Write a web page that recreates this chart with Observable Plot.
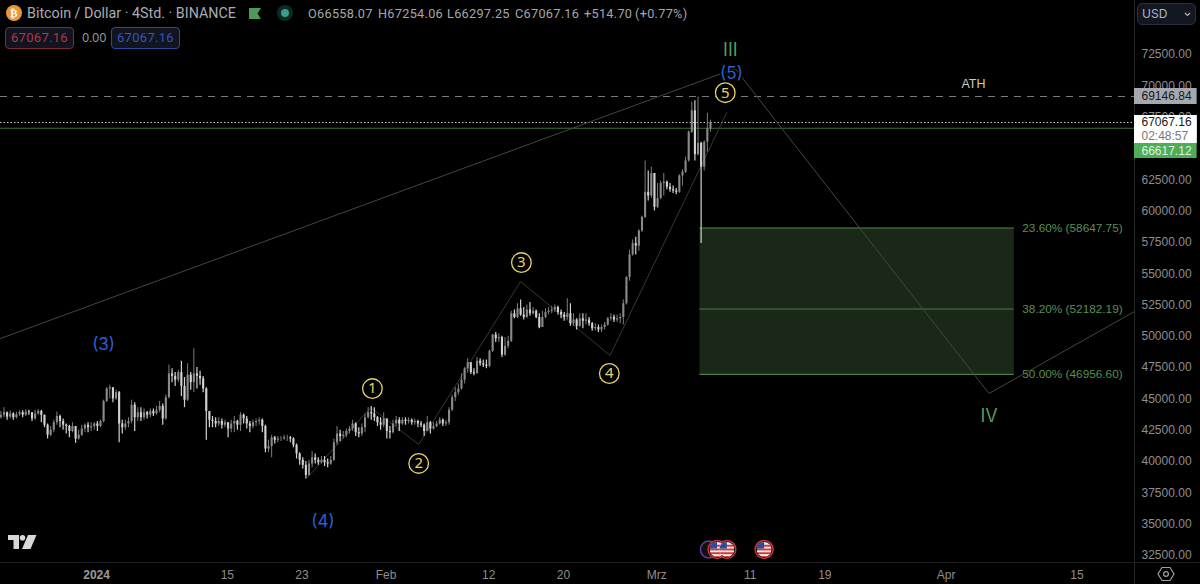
<!DOCTYPE html>
<html><head><meta charset="utf-8">
<script src="https://cdn.jsdelivr.net/npm/d3@7"></script>
<script src="https://cdn.jsdelivr.net/npm/@observablehq/plot@0.6"></script>
<style>
html,body{margin:0;padding:0;background:#000;width:1200px;height:584px;overflow:hidden}
#wrap{position:relative;width:1200px;height:584px;font-family:Inter,Roboto,sans-serif}
#wrap svg.plot{display:block}
.o{position:absolute;white-space:nowrap}
.q{position:absolute;white-space:nowrap;top:5px;font-size:12.7px;line-height:17px;color:#a4a7ad;font-family:Roboto,sans-serif;letter-spacing:.3px}
.box{position:absolute;box-sizing:border-box;height:22px;top:27px;width:69px;border-radius:4px;background:#12141f;font-size:13px;line-height:20px;text-align:center;font-family:Roboto,sans-serif;letter-spacing:.3px}
</style></head><body>
<div id="wrap">
<div id="chart"></div>
<svg class="o" style="left:5px;top:4px" width="18" height="18" viewBox="0 0 18 18"><circle cx="9" cy="9" r="8" fill="#e8963a"/><text x="9" y="13" font-size="11" font-weight="700" text-anchor="middle" fill="#fff" font-family="DejaVu Sans">₿</text></svg>
<div class="o" style="left:27px;top:4px;font-size:14.3px;line-height:18px;color:#a9acb4;font-family:Roboto,sans-serif">Bitcoin / Dollar · 4Std. · BINANCE</div>
<svg class="o" style="left:248px;top:7px" width="14" height="13" viewBox="0 0 14 13"><path d="M1 1H13L9.5 6.5L13 12H1Z" fill="#4f9a5a"/></svg>
<svg class="o" style="left:276px;top:4px" width="18" height="18" viewBox="0 0 18 18"><circle cx="9" cy="9" r="8" fill="#0e2a24"/><circle cx="9" cy="9" r="4" fill="#3d9c86"/></svg>
<div class="q" style="left:308px">O66558.07</div>
<div class="q" style="left:378px">H67254.06</div>
<div class="q" style="left:447px">L66297.25</div>
<div class="q" style="left:515px">C67067.16</div>
<div class="q" style="left:584px">+514.70</div>
<div class="q" style="left:635px">(+0.77%)</div>
<div class="box" style="left:5px;border:1px solid #7c2c36;color:#a93c46">67067.16</div>
<div class="o" style="left:82px;top:30px;font-size:11.5px;line-height:16px;color:#9a9a9a">0.00</div>
<div class="box" style="left:111px;border:1px solid #2b4c9e;color:#3257b8">67067.16</div>
<div class="o" style="left:1137px;top:3px;width:59px;height:22px;box-sizing:border-box;border:1px solid #2c303c;border-radius:5px;background:#131722;color:#b2b5be;font-size:12px;line-height:20px;padding-left:4px">USD<svg style="position:absolute;right:4px;top:8px" width="7" height="5" viewBox="0 0 7 5"><path d="M1 1L3.5 3.5L6 1" fill="none" stroke="#b2b5be" stroke-width="1.2"/></svg></div>
<svg class="o" style="left:8px;top:535px" width="29" height="15" viewBox="0 0 29 15"><path d="M0 0H11V14H5.5V5H0Z" fill="#d8d8d8"/><circle cx="14.5" cy="2.8" r="2.8" fill="#d8d8d8"/><path d="M20 0H28.5L22.5 14H14Z" fill="#d8d8d8"/></svg>
<svg class="o" style="left:1157px;top:565px" width="18" height="18" viewBox="0 0 18 18"><path d="M5 2.5H13L17 9L13 15.5H5L1 9Z" fill="none" stroke="#a0a0a0" stroke-width="1.2"/><circle cx="9" cy="9" r="2.4" fill="none" stroke="#a0a0a0" stroke-width="1.2"/></svg>
</div>
<script>
// Candles: one bar per 8 hours
const firstCandle = "2023-12-21T18:00:00Z";
const stepHours = 8;
const firstOpen = 43500;
const closes = [
43700,43900,43550,43800,43500,43750,43900,43700,43950,43900,
43400,43800,44000,43700,42900,42100,42500,43100,43600,43200,
42900,42800,42400,42800,41800,42100,42600,42900,42700,42800,
43000,42800,43200,44800,45800,45900,45000,45500,43000,42700,
43000,43200,44500,43500,43900,43500,43900,43700,44000,43800,
44100,44400,43400,45100,47000,46800,46500,47100,46000,44900,
46900,46300,47000,46800,46600,45800,44000,43300,43200,43000,
43200,42900,43100,42600,43000,43200,42900,43700,43400,43000,
42800,43100,43200,43300,42800,41000,41200,41900,41700,41800,
41800,41900,41900,41800,41300,40600,40100,39700,38900,39800,
40300,40100,39900,40100,39900,39800,40100,41500,42200,42000,
42100,42400,42600,43000,42300,42200,42700,43500,43900,43800,
43500,43100,42900,43400,42400,42300,43000,43300,43000,43300,
43200,43300,43100,43200,43000,42900,42400,43100,42600,42800,
43000,43300,43000,43100,44100,45100,45500,45800,46500,47400,
47900,47100,47000,48000,47800,47700,47600,48800,50100,49800,
49900,48500,49200,49600,51800,51500,52200,51700,51500,52100,
51800,52000,51500,50700,51500,51900,52000,52100,52300,51900,
51700,51500,51800,51000,51300,50800,51400,51200,51300,51000,
50600,50700,50500,50700,50900,51400,51500,51300,51400,51500,
52600,54700,56500,57400,57200,58400,59500,61500,61200,63000,
60300,61000,62200,62300,61900,61700,61600,61500,62800,63100,
64000,66300,68000,64500,65400,63500,65500,66558,67067.16];
const highs = [
44000,44300,43950,44050,43900,43950,44050,44050,44150,44100,
43900,44100,44150,44100,43700,43000,42800,43300,43950,43700,
43400,43000,42900,43100,42800,42500,42900,43000,43100,43100,
43100,43200,43300,44900,45900,46100,45800,45700,45600,43300,
43300,43500,44900,44700,44300,44300,44200,44000,44200,44200,
44400,44800,44600,45300,47700,47400,47100,47300,48000,46700,
47800,47100,49000,47500,47200,46800,45900,43900,43600,43500,
43500,43400,43300,43100,43300,43600,43300,43900,43800,43600,
43200,43300,43400,43500,43400,42900,41700,42100,42000,42000,
42000,42100,42100,42000,41900,41400,40700,40300,40000,40100,
40800,40600,40300,40400,40400,40200,40400,41800,42800,42500,
42400,42600,42800,43300,43100,42700,43000,43800,44300,44400,
44300,43600,43500,43900,43400,42800,43300,43600,43500,43500,
43500,43500,43400,43400,43300,43200,43000,43600,43200,43100,
43200,43500,43400,43300,44300,45300,45900,46200,47000,47500,
48230,47600,47400,48300,48200,48100,48100,48900,50150,50300,
50200,50000,49900,50000,52000,52100,52600,52900,52300,52500,
52700,52300,52100,51800,52000,52200,52300,52400,52500,52400,
52100,51900,53000,52600,51800,51400,51800,51800,51800,51500,
51100,51000,50900,50900,51100,51500,51800,51700,51700,51800,
52900,54750,56900,57700,57900,58500,59600,64000,63200,63500,
63000,62200,62400,63000,62400,62200,62000,61800,62900,63300,
64300,66400,68700,68800,69100,65500,65600,67800,67254.06];
const lows = [
43400,43500,43300,43400,43300,43400,43600,43500,43600,43700,
43200,43300,43700,43100,42700,41800,42000,42300,42900,42700,
42500,42200,41900,42300,41450,41700,42000,42300,42300,42400,
42500,42400,42700,43100,44700,45000,44700,44900,41500,42200,
42500,42700,43000,42400,43200,43200,43300,43400,43500,43600,
43700,43900,42900,43300,45000,46300,46000,46300,45200,44300,
44800,45700,45500,45800,46100,45500,41700,42700,42700,42700,
42800,42600,42700,41900,42300,42300,42500,42400,43000,42600,
42300,42600,42800,42900,42300,40700,40700,40300,41400,41500,
41600,41700,41600,41500,41100,40200,39700,39400,38600,38800,
39500,39800,39700,39800,39600,39500,39700,40000,41300,41600,
41800,41900,42200,42400,42000,41900,42000,42300,43400,43300,
43200,42800,42500,42700,41800,41800,42200,42800,42400,42900,
42900,43000,42900,42900,42700,42700,42000,42400,42200,42500,
42700,42900,42800,42800,42900,44000,44800,45300,45700,46200,
47050,46950,46850,47000,47600,47500,47400,47500,48700,49500,
49500,48300,48400,49000,49500,51400,51400,51600,51300,51400,
51600,51700,51400,50600,50700,51400,51700,51800,51900,51700,
51400,51200,51300,50800,50800,50500,50700,50600,50900,50800,
50400,50400,50300,50300,50500,50800,51200,51100,51100,51000,
50900,52500,54400,56400,56500,56800,58300,59400,60800,61000,
60000,60200,60900,61200,61700,61500,61400,61300,61400,62000,
63000,63900,66200,64000,64400,57400,63200,64700,66297.25];

// Wave counts
const majorDates = ["2023-12-21T17:00Z","2024-03-09T09:00Z","2024-04-05T14:00Z","2024-04-21T04:00Z"];
const majorPrices = [49825,71380,45434,51981];
const minorDates = ["2024-01-23T14:00Z","2024-01-30T09:00Z","2024-02-04T12:00Z","2024-02-15T10:00Z","2024-02-25T00:00Z","2024-03-08T12:00Z"];
const minorPrices = [38727,44316,41362,54376,48468,67869];

// Labels on the waves
const circledLabels = ["1","2","3","4","5"];
const circledDates = ["2024-01-30T13:00Z","2024-02-04T12:00Z","2024-02-15T12:00Z","2024-02-24T22:00Z","2024-03-08T08:00Z"];
const circledPrices = [45830,39850,55890,47030,69450];
const blueLabels = ["(3)","(4)","(5)"];
const blueDates = ["2024-01-01T18:00Z","2024-01-25T06:00Z","2024-03-09T00:00Z"];
const bluePrices = [49360,35200,70950];
const greenLabels = ["III","IV"];
const greenDates = ["2024-03-08T21:00Z","2024-04-05T14:00Z"];
const greenPrices = [72880,43640];

// Fibonacci box
const fibLabels = ["23.60% (58647.75)","38.20% (52182.19)","50.00% (46956.60)"];
const fibLevels = [58647.75,52182.19,46956.60];
const fibStart = "2024-03-05T15:00Z";
const fibEnd = "2024-04-08T07:00Z";

// Horizontal levels
const athLevel = 69146.84, lastPrice = 67067.16, greenLevel = 66617.12;

// Axis
const priceTicks = [72500,70000,67500,62500,60000,57500,55000,52500,50000,47500,45000,42500,40000,37500,35000,32500];
const timeTicks = ["2024-01-01","2024-01-15","2024-01-23","2024-02-01","2024-02-12","2024-02-20","2024-03-01","2024-03-11","2024-03-19","2024-04-01","2024-04-15"];
const timeLabels = ["2024","15","23","Feb","12","20","Mrz","11","19","Apr","15"];
const eventDates = ["2024-03-07T11:00Z","2024-03-08T12:00Z","2024-03-12T12:00Z"];
const purpleEvent = "2024-03-06T14:00Z";
const eventPrice = 32980;

// Price tags in the right-hand column
const tagTexts = ["69146.84","02:48:57","67067.16","66617.12"];
const tagPrices = [69146.84,66000,67067.16,64800];
const tagFills = ["#a6a8b0","#fff","#fff","#4fae55"];
const tagInks = ["#17181c","#777","#17181c","#dff3e0"];
const tagTops = [69785,67630,67630,65394];
const tagBottoms = [68508,65394,65394,64197];

const t = s => new Date(s);
const domainStart = t("2023-12-21T17:00Z"), edge = t("2024-04-21T04:00Z"), far = t("2024-04-28T08:00Z");
const yMin = 31940, yMax = 76811;

const candles = closes.map((c,i)=>({
  date:new Date(+t(firstCandle)+i*stepHours*36e5),
  open:i?closes[i-1]:firstOpen, close:c, high:highs[i], low:lows[i]
}));
if (closes.length!==highs.length||closes.length!==lows.length) throw new Error("length "+closes.length+" "+highs.length+" "+lows.length);
const up = candles.filter(d=>d.close>=d.open), down = candles.filter(d=>d.close<d.open);
const major = majorDates.map((d,i)=>({x:t(d),y:majorPrices[i]}));
const minor = minorDates.map((d,i)=>({x:t(d),y:minorPrices[i]}));
const circled = circledLabels.map((l,i)=>({l,x:t(circledDates[i]),y:circledPrices[i]}));
const blue = blueLabels.map((l,i)=>({l,x:t(blueDates[i]),y:bluePrices[i]}));
const green = greenLabels.map((l,i)=>({l,x:t(greenDates[i]),y:greenPrices[i]}));
const fib = fibLevels.map((y,i)=>({y,l:fibLabels[i]}));
const tags = tagTexts.map((s,i)=>({s,y:tagPrices[i],fill:tagFills[i],ink:tagInks[i],top:tagTops[i],bottom:tagBottoms[i]}));
const flag = "data:image/svg+xml,"+encodeURIComponent('<svg xmlns="http://www.w3.org/2000/svg" width="16" height="16" viewBox="0 0 16 16"><rect width="16" height="16" fill="#eee"/><rect y="3" width="16" height="2" fill="#d33"/><rect y="7" width="16" height="2" fill="#d33"/><rect y="11" width="16" height="2" fill="#d33"/><rect y="15" width="16" height="1" fill="#d33"/><rect width="8" height="7" fill="#2b4aa0"/></svg>');
const bg = "#000";
const font = "Liberation Sans, Roboto, sans-serif";

const plot = Plot.plot({
  width:1200, height:584, marginLeft:0, marginRight:66, marginTop:0, marginBottom:22,
  style:{background:bg,fontFamily:font},
  x:{type:"utc",domain:[domainStart,edge],range:[0,1134]},
  y:{domain:[yMin,yMax],range:[562,0]},
  marks:[
    Plot.rect([0],{x1:()=>t(fibStart),x2:()=>t(fibEnd),y1:()=>fibLevels[2],y2:()=>fibLevels[0],fill:"#1a2917"}),
    Plot.ruleY(fib,{y:"y",x1:()=>t(fibStart),x2:()=>t(fibEnd),stroke:"#4d7f48",strokeWidth:1.1}),
    Plot.text(fib,{text:"l",y:"y",x:()=>t(fibEnd),dx:8,textAnchor:"start",fill:"#5a8f52",fontSize:11.8,fontFamily:font}),
    Plot.ruleY([athLevel],{x1:()=>domainStart,x2:()=>edge,stroke:"#7c7c7c",strokeWidth:1,strokeDasharray:"7,6"}),
    Plot.ruleY([greenLevel],{x1:()=>domainStart,x2:()=>edge,stroke:"#3f6e3c",strokeWidth:1.1}),
    Plot.ruleY([lastPrice],{x1:()=>domainStart,x2:()=>edge,stroke:"#d0d0d0",strokeWidth:1,strokeDasharray:"1.5,2"}),
    Plot.line(minor,{x:"x",y:"y",stroke:"#3a3926",strokeWidth:1}),
    Plot.line(major,{x:"x",y:"y",stroke:"#3d4c39",strokeWidth:1}),
    Plot.ruleX(up,{x:"date",y1:"low",y2:"high",stroke:"#7e7e7e",strokeWidth:1}),
    Plot.ruleX(up,{x:"date",y1:"open",y2:"close",stroke:"#8a8a8a",strokeWidth:2.1}),
    Plot.ruleX(down,{x:"date",y1:"low",y2:"high",stroke:"#d2d2d2",strokeWidth:1.2}),
    Plot.ruleX(down,{x:"date",y1:"open",y2:"close",stroke:"#d2d2d2",strokeWidth:2.1}),
    Plot.dot(circled,{x:"x",y:"y",r:9.8,stroke:"#e6d36a",strokeWidth:1.3,fill:bg}),
    Plot.text(circled,{x:"x",y:"y",text:"l",fill:"#e6d36a",fontSize:15,fontFamily:"Noto Sans, sans-serif"}),
    Plot.text(blue,{x:"x",y:"y",text:"l",fill:"#2f5fd0",fontSize:17,stroke:bg,strokeWidth:3,fontFamily:"Inter,sans-serif"}),
    Plot.text(green,{x:"x",y:"y",text:"l",fill:"#5a9a5a",fontSize:18,fontFamily:"Inter,sans-serif"}),
    Plot.text(["ATH"],{x:()=>t("2024-04-03T22:00Z"),y:()=>70160,text:d=>d,fill:"#c8c8c8",fontSize:12.5}),
    Plot.dot([purpleEvent],{x:d=>t(d),y:()=>eventPrice,r:8.5,stroke:"#6a3fa0",strokeWidth:1.4,fill:"#111"}),
    Plot.dot(eventDates,{x:d=>t(d),y:()=>eventPrice,r:9,stroke:"#c8343c",strokeWidth:1.5,fill:"#111"}),
    Plot.image(eventDates,{x:d=>t(d),y:()=>eventPrice,src:()=>flag,width:15,height:15,r:7.5}),
    Plot.ruleX([edge],{y1:()=>yMax,y2:()=>yMin-2760,stroke:"#262626",strokeWidth:1}),
    Plot.ruleY([yMin],{x1:()=>domainStart,x2:()=>far,stroke:"#1e1e1e",strokeWidth:1}),
    Plot.axisY(priceTicks,{anchor:"right",tickSize:0,tickPadding:7,tickFormat:d3.format(".2f"),label:null,color:"#8e8e8e",fontSize:12,fontFamily:font}),
    Plot.axisX(timeTicks.slice(1).map(t),{anchor:"bottom",tickSize:0,tickPadding:8,label:null,color:"#8e8e8e",fontSize:12,fontFamily:font,
      tickFormat:d=>timeLabels[timeTicks.findIndex(s=>+t(s)===+d)]}),
    Plot.axisX([t(timeTicks[0])],{anchor:"bottom",tickSize:0,tickPadding:8,label:null,color:"#9a9a9a",fontSize:12,fontWeight:"bold",fontFamily:font,tickFormat:()=>timeLabels[0]}),
    Plot.rect(tags,{x1:()=>edge,x2:()=>t("2024-04-27T21:00Z"),y1:"bottom",y2:"top",fill:d=>d.fill}),
    Plot.text(tags,{x:()=>edge,y:"y",dx:7,textAnchor:"start",text:"s",fill:d=>d.ink,fontSize:12,fontFamily:font})
  ],
  color:{type:"identity"}
});
document.getElementById("chart").appendChild(plot);
</script>
</body></html>
